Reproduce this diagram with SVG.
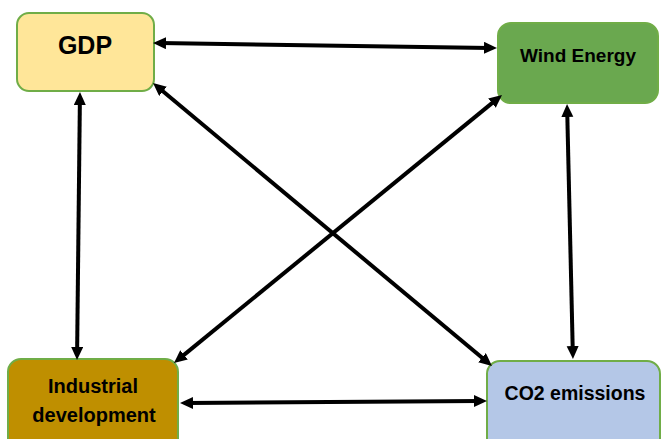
<svg xmlns="http://www.w3.org/2000/svg" width="662" height="439" viewBox="0 0 662 439">
<style>
.box{stroke:#70AD47;stroke-width:2}
.lbl{font-family:"Liberation Sans",Arial,sans-serif;font-weight:bold;fill:#000;text-anchor:middle}
.conn{stroke:#000;stroke-width:4;fill:none;marker-start:url(#ah);marker-end:url(#ah)}
</style>
<defs>
<marker id="ah" markerUnits="userSpaceOnUse" markerWidth="14" markerHeight="13" refX="6" refY="6" orient="auto-start-reverse">
<path d="M0,0 L13,6 L0,12 z" fill="#000"/>
</marker>
</defs>
<rect width="662" height="439" fill="#fff"/>
<g id="gdp">
<rect class="box" x="17" y="13" width="137" height="78" rx="12" fill="#FFE699"/>
<text class="lbl" x="85" y="54" font-size="25">GDP</text>
</g>
<g id="wind">
<rect class="box" x="498" y="23" width="160" height="80" rx="13" fill="#6AA84F"/>
<text class="lbl" x="578" y="62" font-size="19">Wind Energy</text>
</g>
<g id="industrial">
<rect class="box" x="8" y="359" width="170" height="92" rx="13" fill="#BF8F00"/>
<text class="lbl" x="93" y="393" font-size="20">Industrial</text>
<text class="lbl" x="94" y="422" font-size="20">development</text>
</g>
<g id="co2">
<rect class="box" x="487" y="361" width="173" height="90" rx="13" fill="#B4C7E7"/>
<text class="lbl" x="575" y="400" font-size="19.5">CO2 emissions</text>
</g>
<g id="connectors">
<line class="conn" x1="160" y1="43.1" x2="490" y2="47.9"/>
<line class="conn" x1="79.9" y1="99" x2="77.1" y2="353"/>
<line class="conn" x1="567.2" y1="111" x2="572.8" y2="352"/>
<line class="conn" x1="187" y1="403" x2="480" y2="401"/>
<line class="conn" x1="158.4" y1="87.5" x2="486.6" y2="361.5"/>
<line class="conn" x1="496.6" y1="99.4" x2="179.4" y2="358.6"/>
</g>
</svg>
